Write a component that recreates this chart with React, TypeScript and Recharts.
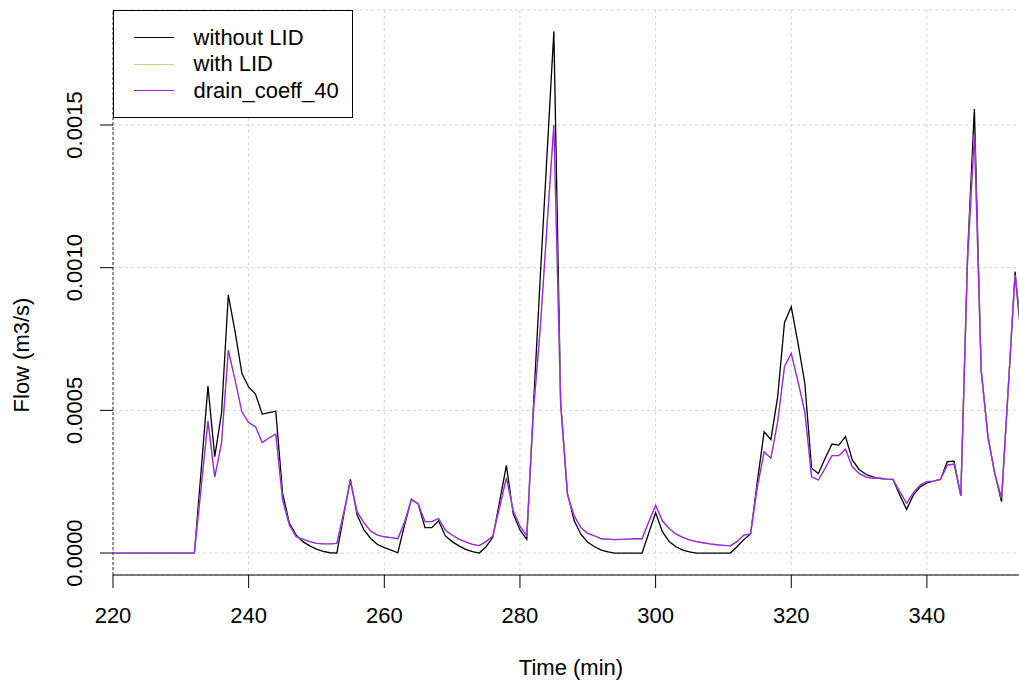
import { CartesianGrid, Line, LineChart, ReferenceLine, XAxis, YAxis, Label } from "recharts";

const FONT = '"Liberation Sans", Arial, sans-serif';

// time (min)
const minutes = [
  220, 221, 222, 223, 224, 225, 226, 227, 228, 229, 230, 231, 232, 233, 234, 235, 236, 237, 238, 239,
  240, 241, 242, 243, 244, 245, 246, 247, 248, 249, 250, 251, 252, 253, 254, 255, 256, 257, 258, 259,
  260, 261, 262, 263, 264, 265, 266, 267, 268, 269, 270, 271, 272, 273, 274, 275, 276, 277, 278, 279,
  280, 281, 282, 283, 284, 285, 286, 287, 288, 289, 290, 291, 292, 293, 294, 295, 296, 297, 298, 299,
  300, 301, 302, 303, 304, 305, 306, 307, 308, 309, 310, 311, 312, 313, 314, 315, 316, 317, 318, 319,
  320, 321, 322, 323, 324, 325, 326, 327, 328, 329, 330, 331, 332, 333, 334, 335, 336, 337, 338, 339,
  340, 341, 342, 343, 344, 345, 346, 347, 348, 349, 350, 351, 352, 353, 354,
];

// flow (m3/s)
const withoutLid = [
  0, 0, 0, 0, 0, 0, 0, 0, 0, 0, 0, 0, 0, 0.00029, 0.000585, 0.000338, 0.00049, 0.000904, 0.000776, 0.00063,
  0.000582, 0.000557, 0.000487, 0.000492, 0.000497, 0.00021, 0.000105, 0.000063, 0.00004, 0.000025,
  0.000014, 0.000006, 0.000001, 0, 0.00013, 0.000258, 0.000133, 0.000081, 0.000051, 0.00003,
  0.000019, 0.00001, 0.000001, 0.0001, 0.000188, 0.000172, 0.000089, 0.000089, 0.000113, 0.00006,
  0.00004, 0.000025, 0.000013, 0.000005, 0, 0.000022, 0.000055, 0.00018, 0.000307, 0.000138,
  0.000081, 0.000048, 0.00052, 0.00097, 0.0014, 0.001828, 0.00053, 0.00021, 0.000113, 0.000065,
  0.000038, 0.000022, 0.00001, 0.000004, 0, 0, 0, 0, 0, 0.00007,
  0.000141, 0.000075, 0.00004, 0.000022, 0.00001, 0.000004, 0, 0, 0, 0,
  0, 0, 0.000022, 0.000047, 0.000067, 0.00025, 0.000425, 0.000398, 0.000548, 0.000807,
  0.000863, 0.000735, 0.000595, 0.000297, 0.000279, 0.000332, 0.000382, 0.000378, 0.000408, 0.000326,
  0.000293, 0.000276, 0.000267, 0.000262, 0.000259, 0.000258, 0.000203, 0.000153, 0.000203, 0.000232,
  0.000246, 0.000252, 0.000258, 0.00032, 0.000322, 0.000201, 0.00105, 0.001556, 0.000641, 0.000408,
  0.000279, 0.00018, 0.00058, 0.000986, 0.00074,
];

const drainCoeff40 = [
  0, 0, 0, 0, 0, 0, 0, 0, 0, 0, 0, 0, 0, 0.00023, 0.000463, 0.000266, 0.000385, 0.000711, 0.000606, 0.000495,
  0.000457, 0.000443, 0.000387, 0.000403, 0.000417, 0.000186, 0.000098, 0.000057, 0.000049, 0.00004,
  0.000034, 0.000032, 0.000032, 0.000034, 0.00014, 0.00025, 0.000145, 0.000106, 0.000077, 0.000063,
  0.000057, 0.000054, 0.00005, 0.00011, 0.000188, 0.000172, 0.00011, 0.00011, 0.000121, 0.00008,
  0.000063, 0.000049, 0.000039, 0.00003, 0.000026, 0.00004, 0.00006, 0.00016, 0.000263, 0.00015,
  0.000094, 0.00006, 0.0005, 0.00079, 0.00115, 0.0015, 0.00052, 0.000205, 0.00013, 0.000088,
  0.000069, 0.00006, 0.00005, 0.000049, 0.000047, 0.000048, 0.000049, 0.00005, 0.00005, 0.00011,
  0.000167, 0.000113, 0.000086, 0.000067, 0.000055, 0.000046, 0.00004, 0.000036, 0.000032, 0.000029,
  0.000027, 0.000025, 0.00004, 0.000063, 0.000067, 0.00023, 0.000355, 0.000332, 0.00046, 0.000653,
  0.0007, 0.0006, 0.000495, 0.000267, 0.000256, 0.000297, 0.000341, 0.000341, 0.000364, 0.000302,
  0.000279, 0.000267, 0.000262, 0.000262, 0.000259, 0.000258, 0.000215, 0.000174, 0.000211, 0.000238,
  0.00025, 0.000252, 0.000258, 0.000308, 0.000312, 0.000201, 0.00103, 0.001465, 0.000641, 0.000408,
  0.000279, 0.000193, 0.00058, 0.000974, 0.00073,
];

// "with LID" sits right under the drain_coeff_40 curve
const withLid = drainCoeff40;

const xTicks = [220, 240, 260, 280, 300, 320, 340];
const yTicks = [0, 0.0005, 0.001, 0.0015];

const series = [
  { key: "withoutLid", name: "without LID", color: "#000000" },
  { key: "withLid", name: "with LID", color: "#B9DC80" },
  { key: "drain", name: "drain_coeff_40", color: "#A020F0" },
];

const data = minutes.map((t, i) => ({
  t,
  withoutLid: withoutLid[i],
  withLid: withLid[i],
  drain: drainCoeff40[i],
}));

const XTick = ({ x, payload }: any) => (
  <text x={x} y={623} textAnchor="middle" fontSize={22} fontFamily={FONT} fill="#000">
    {payload.value}
  </text>
);

const YTick = ({ y, payload }: any) => (
  <text
    x={82}
    y={y}
    transform={`rotate(-90, 82, ${y})`}
    textAnchor="middle"
    fontSize={22}
    fontFamily={FONT}
    fill="#000"
  >
    {payload.value.toFixed(4)}
  </text>
);

function Legend() {
  return (
    <div
      style={{
        position: "absolute",
        left: 112.5,
        top: 9.5,
        width: 240,
        height: 108,
        border: "1px solid #000",
        background: "#fff",
        boxSizing: "border-box",
        fontFamily: FONT,
        fontSize: 22,
      }}
    >
      {series.map((s, i) => (
        <div
          key={s.key}
          style={{ position: "absolute", left: 0, top: 14 + i * 26.7, height: 26, display: "flex", alignItems: "center" }}
        >
          <div style={{ width: 40, height: 0, borderTop: `1.5px solid ${s.color}`, marginLeft: 20 }} />
          <span style={{ marginLeft: 20, lineHeight: "26px", whiteSpace: "nowrap" }}>{s.name}</span>
        </div>
      ))}
    </div>
  );
}

export default function App() {
  return (
    <div style={{ position: "absolute", left: 0, top: 0, width: 1019, height: 684, overflow: "hidden", background: "#fff" }}>
      <LineChart width={1030} height={684} data={data} margin={{ top: 10, right: 0, bottom: 0, left: 0 }}>
        <CartesianGrid stroke="#d3d3d3" strokeDasharray="3 3" />
        <XAxis
          dataKey="t"
          type="number"
          domain={[220, 355.2]}
          allowDataOverflow
          ticks={xTicks}
          tick={<XTick />}
          tickSize={13}
          tickLine={{ stroke: "#000" }}
          axisLine={{ stroke: "#000" }}
          height={109}
        >
          <Label
            content={() => (
              <text x={571} y={675} textAnchor="middle" fontSize={22} fontFamily={FONT} fill="#000">
                Time (min)
              </text>
            )}
          />
        </XAxis>
        <XAxis
          xAxisId="top"
          orientation="top"
          dataKey="t"
          type="number"
          domain={[220, 355.2]}
          allowDataOverflow
          tick={false}
          tickLine={false}
          axisLine={{ stroke: "#000" }}
          height={0}
        />
        <YAxis
          type="number"
          domain={[-0.000077, 0.001903]}
          allowDataOverflow
          ticks={yTicks}
          tick={<YTick />}
          tickSize={13}
          tickLine={{ stroke: "#000" }}
          axisLine={false}
          width={113}
        >
          <Label
            content={() => (
              <text
                x={29}
                y={355}
                transform="rotate(-90, 29, 355)"
                textAnchor="middle"
                fontSize={22}
                fontFamily={FONT}
                fill="#000"
              >
                Flow (m3/s)
              </text>
            )}
          />
        </YAxis>
        <ReferenceLine x={220} stroke="#333" strokeDasharray="3 2" />
        {series.map((s) => (
          <Line
            key={s.key}
            dataKey={s.key}
            name={s.name}
            stroke={s.color}
            strokeWidth={1.3}
            dot={false}
            activeDot={false}
            type="linear"
            isAnimationActive={false}
          />
        ))}
      </LineChart>
      <Legend />
    </div>
  );
}
